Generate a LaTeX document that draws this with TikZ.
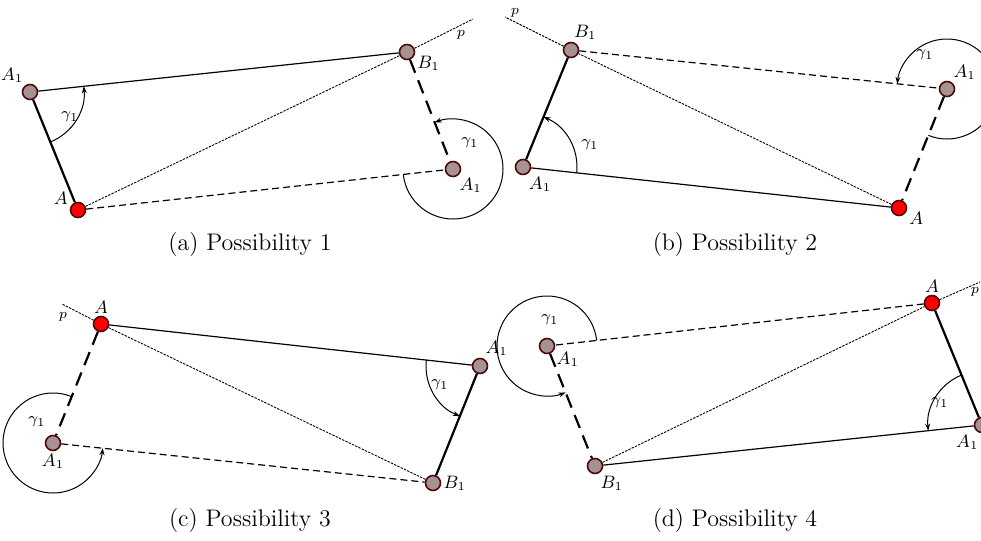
\documentclass[tikz,border=0pt]{standalone}
\usepackage{amsmath}
\usepackage{tikz}
\usetikzlibrary{arrows.meta, angles, calc, positioning}
\definecolor{ptgray}{RGB}{166,146,146}
\definecolor{ptedge}{RGB}{80,10,10}

\begin{document}
\begin{tikzpicture}[
    x=0.5pt, y=-0.5pt,
    >={Stealth[length=3.5pt,width=2.5pt]},
    pt/.style={circle, draw=ptedge, fill=ptgray, line width=0.8pt, minimum size=7.5pt, inner sep=0pt},
    ptred/.style={pt, fill=red},
    lab/.style={font=\small, inner sep=1pt},
    glab/.style={font=\footnotesize, inner sep=0pt},
    plab/.style={font=\scriptsize, inner sep=0pt},
    sideline/.style={line width=0.6pt},
    boldline/.style={line width=1.1pt},
    diagline/.style={line width=0.45pt, dash pattern=on 1.2pt off 0.6pt},
    shortdash/.style={line width=0.6pt, dash pattern=on 3.5pt off 2pt},
    longdash/.style={line width=1.1pt, dash pattern=on 7pt off 4pt},
    ang/.style={draw, ->, line width=0.5pt, angle radius=27pt},
    bigang/.style={draw, ->, line width=0.5pt, angle radius=25pt},
    capnode/.style={font=\large}
]
\useasboundingbox (0,0) rectangle (981,541);

% (a) Possibility 1
\node[pt, label={[lab]121:$A_1$}] (aA1l) at (30,92) {};
\node[ptred, label={[lab]160:$A$}] (aA) at (78,210) {};
\node[pt, label={[lab]-15:$B_1$}] (aB1) at (407,52) {};
\node[pt, label={[lab]-60:$A_1$}] (aA1r) at (453,169) {};
\coordinate (ap) at (473,19);
\node[plab] (apl) at (461,35) {$p$};
\node[glab] (ag1) at (70,117) {$\gamma_1$};
\node[glab] (ag2) at (470,143) {$\gamma_1$};
\draw[sideline] (aA1l) -- (aB1);
\draw[boldline] (aA1l) -- (aA);
\draw[diagline] (aA) -- (aB1) -- (ap);
\draw[shortdash] (aA) -- (aA1r);
\draw[longdash] (aB1) -- (aA1r);
\pic[ang] {angle = aA--aA1l--aB1};
\pic[bigang] {angle = aA--aA1r--aB1};
\node[capnode] (acap) at (250,245) {(a) Possibility 1};

% (b) Possibility 2
\node[pt, label={[lab]85:$B_1$}] (bB1) at (571,50) {};
\node[pt, label={[lab]-65:$A_1$}] (bA1l) at (523,167) {};
\node[ptred, label={[lab]-15:$A$}] (bA) at (899,208) {};
\node[pt, label={[lab]60:$A_1$}] (bA1r) at (947,89) {};
\coordinate (bp) at (505,17);
\node[plab] (bpl) at (515,13) {$p$};
\node[glab] (bg1) at (590,145) {$\gamma_1$};
\node[glab] (bg2) at (925,55) {$\gamma_1$};
\draw[boldline] (bB1) -- (bA1l);
\draw[sideline] (bA1l) -- (bA);
\draw[diagline] (bA) -- (bB1) -- (bp);
\draw[shortdash] (bB1) -- (bA1r);
\draw[longdash] (bA1r) -- (bA);
\pic[ang] {angle = bA--bA1l--bB1};
\pic[bigang] {angle = bA--bA1r--bB1};
\node[capnode] (bcap) at (735,245) {(b) Possibility 2};

% (c) Possibility 3
\node[ptred, label={[lab]90:$A$}] (cA) at (101,324) {};
\node[pt, label={[lab]68:$A_1$}] (cA1r) at (480,366) {};
\node[pt, label={[lab]0:$B_1$}] (cB1) at (433,483) {};
\node[pt, label={[lab]-90:$A_1$}] (cA1l) at (53,443) {};
\coordinate (cp) at (62,304);
\node[plab] (cpl) at (63,317) {$p$};
\node[glab] (cg1) at (440,385) {$\gamma_1$};
\node[glab] (cg2) at (37,422) {$\gamma_1$};
\draw[sideline] (cA) -- (cA1r);
\draw[boldline] (cA1r) -- (cB1);
\draw[diagline] (cB1) -- (cA) -- (cp);
\draw[shortdash] (cA1l) -- (cB1);
\draw[longdash] (cA) -- (cA1l);
\pic[ang] {angle = cA--cA1r--cB1};
\pic[bigang] {angle = cA--cA1l--cB1};
\node[capnode] (ccap) at (250,521) {(c) Possibility 3};

% (d) Possibility 4
\node[ptred, label={[lab]90:$A$}] (dA) at (932,303) {};
\node[pt, label={[lab]-98:$A_1$}] (dA1r) at (982,425) {};
\node[pt, label={[lab]-68:$B_1$}] (dB1) at (595,466) {};
\node[pt, label={[lab]-28:$A_1$}] (dA1l) at (547,346) {};
\coordinate (dp) at (980,282);
\node[plab] (dpl) at (975,292) {$p$};
\node[glab] (dg1) at (940,403) {$\gamma_1$};
\node[glab] (dg2) at (550,320) {$\gamma_1$};
\draw[boldline] (dA) -- (dA1r);
\draw[sideline] (dA1r) -- (dB1);
\draw[diagline] (dB1) -- (dA) -- (dp);
\draw[shortdash] (dA) -- (dA1l);
\draw[longdash] (dA1l) -- (dB1);
\pic[ang] {angle = dA--dA1r--dB1};
\pic[bigang] {angle = dA--dA1l--dB1};
\node[capnode] (dcap) at (735,521) {(d) Possibility 4};
\end{tikzpicture}
\end{document}
